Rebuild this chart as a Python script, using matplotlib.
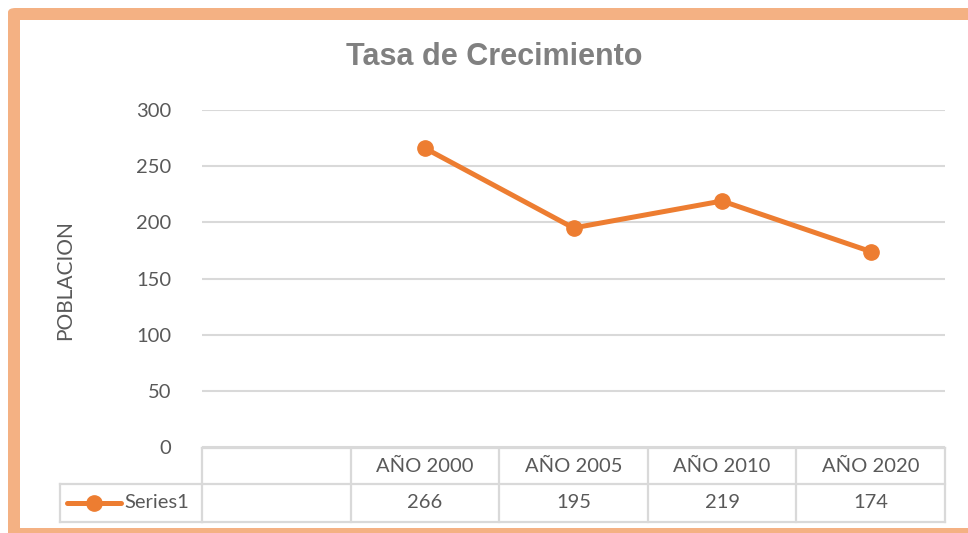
import matplotlib
matplotlib.use("Agg")
import matplotlib.pyplot as plt
from matplotlib.patches import FancyBboxPatch, Rectangle
from matplotlib.lines import Line2D
import matplotlib.transforms as mtrans

categories = ["", "AÑO 2000", "AÑO 2005", "AÑO 2010", "AÑO 2020"]
values = [None, 266, 195, 219, 174]
series_name = "Series1"
title = "Tasa de Crecimiento"
ylabel = "POBLACION"
yticks = [0, 50, 100, 150, 200, 250, 300]

W, H = 968, 533
fig = plt.figure(figsize=(W / 100, H / 100), dpi=100)

def fx(px):
    return px / W

def fy(py):
    return 1 - py / H

ORANGE = "#ED7D31"
BORDER = "#F4B183"
GRID = "#D9D9D9"
TXT = "#595959"
FONT = "Lato"

# Border
outer = FancyBboxPatch((fx(8), fy(545)), fx(1010) - fx(8), fy(8) - fy(545),
                       boxstyle="round,pad=0,rounding_size=0.008",
                       transform=fig.transFigure, facecolor=BORDER, edgecolor="none", zorder=0)
fig.add_artist(outer)
inner = Rectangle((fx(20), fy(528)), fx(1000) - fx(20), fy(20) - fy(528),
                  transform=fig.transFigure, facecolor="white", edgecolor="none", zorder=0)
fig.add_artist(inner)

# Plot axes
left, right, top, bottom = 202, 945, 110, 447
ax = fig.add_axes([fx(left), fy(bottom), fx(right) - fx(left), fy(top) - fy(bottom)])
ax.set_facecolor("none")
n = len(categories)
ax.set_xlim(-0.5, n - 0.5)
ax.set_ylim(0, 300)
for s in ax.spines.values():
    s.set_visible(False)
ax.set_yticks(yticks)
ax.set_xticks([])
ax.tick_params(axis="y", length=0, pad=22, labelsize=14.5, labelcolor=TXT)
for lab in ax.get_yticklabels():
    lab.set_fontfamily(FONT)
ax.grid(axis="y", color=GRID, linewidth=1.5)
ax.set_axisbelow(True)

xs = [i for i, v in enumerate(values) if v is not None]
ys = [v for v in values if v is not None]
ax.plot(xs, ys, color=ORANGE, linewidth=3.6, marker="o", markersize=11,
        solid_capstyle="round", solid_joinstyle="round", zorder=3, clip_on=False)

# Title and ylabel
fig.text(fx(494), fy(57), title, ha="center", va="center", fontsize=22,
         fontweight="bold", color="#808080", family="Liberation Sans")
fig.text(fx(65), fy(280), ylabel, ha="center", va="center", rotation=90,
         fontsize=15, color=TXT, family=FONT)

# Data table
px_per_axes = bottom - top
def ay(py):
    return (bottom - py) / px_per_axes

trans = mtrans.blended_transform_factory(ax.transData, ax.transAxes)
row1_top, row1_bot, row2_bot = 448, 484, 522
lw = 1.6
for yy in (row1_top, row1_bot, row2_bot):
    ax.add_line(Line2D([-0.5, n - 0.5], [ay(yy)] * 2, transform=trans, color=GRID, lw=lw, clip_on=False))
for i in range(n + 1):
    ax.add_line(Line2D([i - 0.5, i - 0.5], [ay(row1_top), ay(row2_bot)], transform=trans,
                       color=GRID, lw=lw, clip_on=False))
# legend cell
leg_left = 60
fig.add_artist(Line2D([fx(leg_left), fx(left)], [fy(row1_bot)] * 2, color=GRID, lw=lw))
fig.add_artist(Line2D([fx(leg_left), fx(left)], [fy(row2_bot)] * 2, color=GRID, lw=lw))
fig.add_artist(Line2D([fx(leg_left)] * 2, [fy(row1_bot), fy(row2_bot)], color=GRID, lw=lw))
fig.add_artist(Line2D([fx(67), fx(121)], [fy(503)] * 2, color=ORANGE, lw=3.6,
                      solid_capstyle="round"))
fig.add_artist(Line2D([fx(94)], [fy(503)], color=ORANGE, marker="o", markersize=11, lw=0))
fig.text(fx(124), fy(503), series_name, ha="left", va="center", fontsize=14.5,
         color=TXT, family=FONT)

for i, (c, v) in enumerate(zip(categories, values)):
    ax.text(i, ay((row1_top + row1_bot) / 2), c, transform=trans, ha="center", va="center",
            fontsize=14.5, color=TXT, family=FONT)
    if v is not None:
        ax.text(i, ay((row1_bot + row2_bot) / 2), str(v), transform=trans, ha="center",
                va="center", fontsize=14.5, color=TXT, family=FONT)

fig.savefig("out.png", dpi=100)
